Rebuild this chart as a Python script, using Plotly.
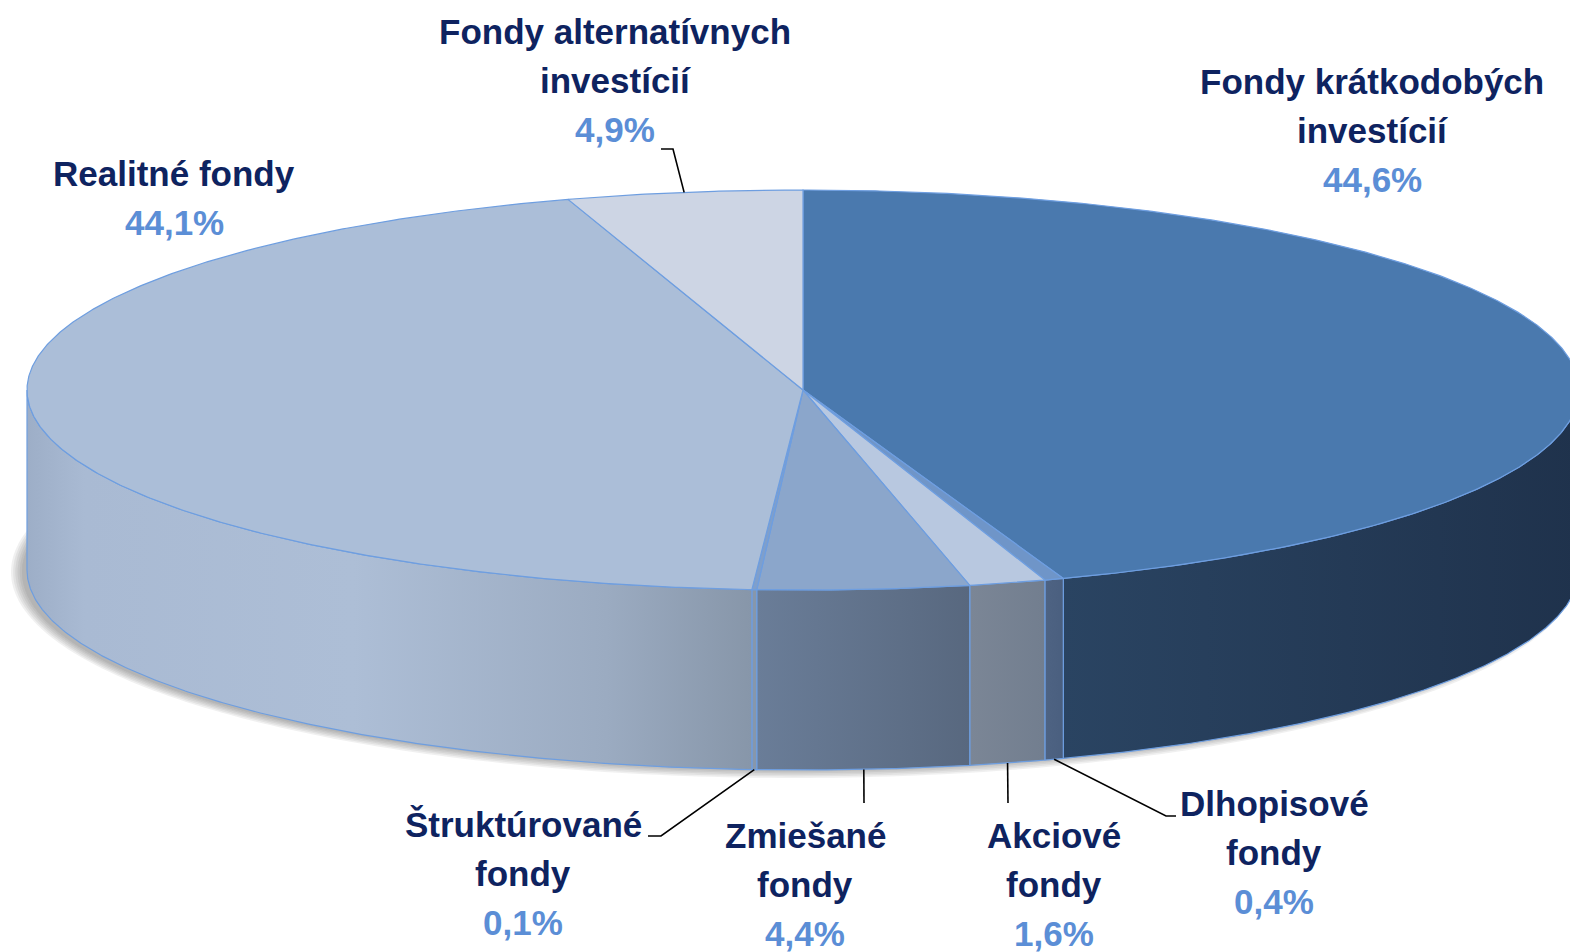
import glob
import numpy as np
import plotly.graph_objects as go

# ---------------- data ----------------
categories = [
    "Fondy krátkodobých investícií",
    "Dlhopisové fondy",
    "Akciové fondy",
    "Zmiešané fondy",
    "Štruktúrované fondy",
    "Realitné fondy",
    "Fondy alternatívnych investícií",
]
label_lines = [
    ["Fondy krátkodobých", "investícií"],
    ["Dlhopisové", "fondy"],
    ["Akciové", "fondy"],
    ["Zmiešané", "fondy"],
    ["Štruktúrované", "fondy"],
    ["Realitné fondy"],
    ["Fondy alternatívnych", "investícií"],
]
values = [44.6, 0.4, 1.6, 4.4, 0.1, 44.1, 4.9]

# ---------------- styles / layout ----------------
top_colors = ["#4A79AE", "#6F95C8", "#B8C8E0", "#8BA6CB", "#7F9FCB", "#ABBED8", "#CDD5E4"]
wall_scales = [
    [[0, "#2A4462"], [1, "#1F324C"]],
    [[0, "#4E6383"], [1, "#4A5F7F"]],
    [[0, "#7B8696"], [1, "#727E8F"]],
    [[0, "#6A7D98"], [1, "#58687F"]],
    [[0, "#8797AB"], [1, "#8797AB"]],
    [[0, "#9DAEC7"], [0.08, "#A9BAD3"], [0.45, "#ADBED6"], [0.8, "#9BABC1"], [1, "#8796A9"]],
    [[0, "#B0BCD0"], [1, "#B0BCD0"]],
]
EDGE = "#6E9EE0"
NAME_COLOR = "#0E2360"
PCT_COLOR = "#5B8ED6"

narrow = glob.glob("/usr/share/fonts/**/LiberationSansNarrow*", recursive=True)
if narrow:
    FONT = "Liberation Sans Narrow"
    FSIZE = 41
else:
    FONT = "Liberation Sans, Arial, sans-serif"
    FSIZE = 35
LINE_GAP = 49

W, H = 1570, 952
CX, CY, A, B, DEPTH = 803, 390, 776, 200, 180

# label block centres and leader-line elbows (layout positions)
label_pos = [(1372, 130), (1274, 852), (1054, 884), (805, 884), (523, 873), (174, 198), (615, 80)]
leader_elbows = [None, [(1166, 816), (1176, 816)], [(1008, 803)], [(864, 803)],
                 [(661, 836), (648, 836)], None, [(673, 149), (661, 149)]]
leader_on_top = [False, False, False, False, False, False, True]


def pt(theta_deg, dy=0.0):
    t = np.radians(theta_deg)
    return CX + A * np.sin(t), CY - B * np.cos(t) + dy


fig = go.Figure()

# soft shadow (bottom ellipse, offset to lower-left, layered for blur)
for k in range(6):
    t = np.radians(np.linspace(0, 360, 361))
    sx = CX - 9 + (A - 4 + k * 2.2) * np.sin(t)
    sy = CY + DEPTH + 2 - (B - 2 + k * 1.6) * np.cos(t)
    fig.add_trace(go.Scatter(x=sx, y=sy, fill="toself", mode="none",
                             fillcolor="rgba(70,70,70,0.08)", hoverinfo="skip", showlegend=False))

total = sum(values)
bounds = np.concatenate([[0], np.cumsum(values)]) / total * 360.0

# walls (front half only: 90..270 deg)
for i, v in enumerate(values):
    s, e = bounds[i], bounds[i + 1]
    ws, we = max(s, 90), min(e, 270)
    if we <= ws:
        continue
    n = max(2, int((we - ws) * 3))
    th = np.linspace(ws, we, n)
    x1, y1 = pt(th)
    x2, y2 = pt(th[::-1], DEPTH)
    xs = np.concatenate([x1, x2, x1[:1]])
    ys = np.concatenate([y1, y2, y1[:1]])
    fig.add_trace(go.Scatter(
        x=xs, y=ys, fill="toself", mode="lines",
        line=dict(color=EDGE, width=1.2),
        fillgradient=dict(type="horizontal", colorscale=wall_scales[i]),
        hoverinfo="skip", showlegend=False))

# top faces
for i, v in enumerate(values):
    s, e = bounds[i], bounds[i + 1]
    n = max(2, int((e - s) * 3))
    th = np.linspace(s, e, n)
    ax, ay = pt(th)
    xs = np.concatenate([[CX], ax, [CX]])
    ys = np.concatenate([[CY], ay, [CY]])
    fig.add_trace(go.Scatter(
        x=xs, y=ys, fill="toself", mode="lines",
        fillcolor=top_colors[i], line=dict(color=EDGE, width=1.2),
        name=categories[i], hoverinfo="name", showlegend=False))

# leader lines & labels
for i, v in enumerate(values):
    mid = (bounds[i] + bounds[i + 1]) / 2
    if leader_elbows[i] is not None:
        if leader_on_top[i]:
            axp, ayp = pt(mid)
        else:
            axp, ayp = pt(mid, DEPTH)
        lx = [float(axp)] + [p[0] for p in leader_elbows[i]]
        ly = [float(ayp)] + [p[1] for p in leader_elbows[i]]
        fig.add_trace(go.Scatter(x=lx, y=ly, mode="lines",
                                 line=dict(color="black", width=1.6),
                                 hoverinfo="skip", showlegend=False))
    pct = f"{v:.1f}".replace(".", ",") + "%"
    rows = [(t, NAME_COLOR) for t in label_lines[i]] + [(pct, PCT_COLOR)]
    n = len(rows)
    for j, (txt, col) in enumerate(rows):
        fig.add_annotation(
            x=label_pos[i][0], y=label_pos[i][1] + (j - (n - 1) / 2) * LINE_GAP,
            xref="x", yref="y", xanchor="center", yanchor="middle",
            showarrow=False, align="center",
            text=f"<b>{txt}</b>",
            font=dict(family=FONT, size=FSIZE, color=col))

fig.update_layout(
    width=W, height=H, margin=dict(l=0, r=0, t=0, b=0),
    paper_bgcolor="white", plot_bgcolor="white",
    xaxis=dict(range=[0, W], visible=False, fixedrange=True),
    yaxis=dict(range=[H, 0], visible=False, fixedrange=True),
    showlegend=False,
)

fig.write_html("out.html", config={"displayModeBar": False},
               post_script="document.body.style.margin='0';document.body.style.overflow='hidden';")
